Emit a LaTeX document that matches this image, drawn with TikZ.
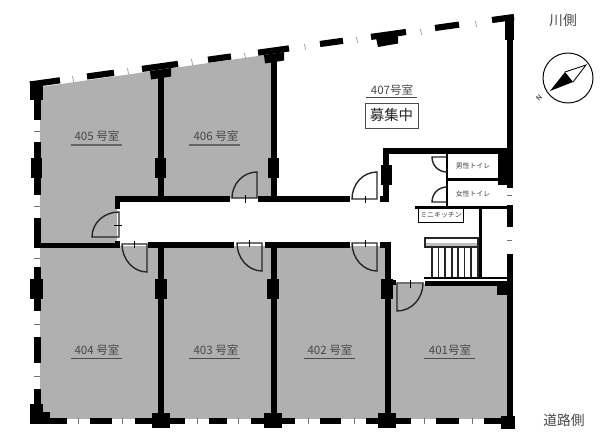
\documentclass[tikz,border=0pt]{standalone}
\usepackage{fontspec}
\setmainfont{Noto Sans CJK JP}
\tikzset{
  wall/.style={fill=black},
  slantwall/.style={draw=black,line width=4.4pt},
  floorgray/.style={fill=black!31},
  tick/.style={draw=black!55,line width=0.4pt},
  door/.style={draw=black!85,line width=1pt},
  doorpin/.style={draw=black,line width=0.4pt},
  roomname/.style={inner sep=0pt,font=\fontsize{8.2pt}{10pt}\selectfont,text=black!72},
  roomrule/.style={draw=black!70,line width=0.4pt},
  smallname/.style={inner sep=0pt,font=\fontsize{4.9pt}{6pt}\selectfont,text=black!75},
  sidename/.style={inner sep=0pt,font=\fontsize{9.8pt}{12pt}\selectfont,text=black!72},
}
\begin{document}
\begin{tikzpicture}[x=0.025cm,y=-0.025cm]
  \useasboundingbox (0,0) rectangle (616,440);
  % gray rooms
  \fill[floorgray] (40,87) -- (272,54) -- (272,198) -- (117,198) -- (117,243) -- (40,243) -- cycle;
  \fill[floorgray] (40,246) rectangle (386,419);
  \fill[floorgray] (389,284) rectangle (508,419);
  % slanted front, river side
  \foreach \xa/\ya/\xb/\yb in {30/84.5/60/80.3, 87/76.5/114/72.8, 142/68.9/178/63.9, 208/59.7/231/56.5,
      258/52.7/289/48.4, 320/44/343/40.8, 371/36.9/406/32, 435/28/459/24.6, 492/20/514/17}
    \draw[slantwall] (\xa,\ya) -- (\xb,\yb);
  \foreach \x/\y in {73/79, 128/71, 192/62, 245/56, 305/47, 357/40, 421/32, 476/24}
    \draw[tick] (\x-0.4,\y-3) -- (\x+0.4,\y+3);
  \fill[wall] (150,71) -- (171,68) -- (171,76.5) -- (151,79.5) -- cycle;
  \fill[wall] (264,55) -- (284,52) -- (284,60.5) -- (265,63.5) -- cycle;
  \fill[wall] (376,38) -- (398,35) -- (398,43.5) -- (378,47) -- cycle;
  % walls and pillars
  \foreach \xa/\ya/\xb/\yb in {
      30/81/43/100, 34/100/40.5/120, 34/142/40.5/195, 31/158/42/178, 34/218/40.5/247.5,
      34/243/120/247.5, 115/241/120/247.5, 115/196/120/209,
      34/267/40.5/311, 30/279/43/299, 34/337/40.5/363, 34/389/40.5/420, 30/404/43/424, 30/412/50/424,
      30/418/67/424, 90/418/112/424, 135/418/185/424, 152/413/170/428, 209/418/227/424,
      251/418/295/424, 264/413/282/428, 320/418/341/424, 366/418/411/424, 378/413/396/428,
      436/418/459/424, 484/418/510/424, 501/416/515/429,
      157.5/70/163.5/198, 155/158/166/178, 157.5/247/163.5/418, 155/279/167/299,
      270.5/60/276.5/198, 268/158/279/178, 270.5/247/276.5/418, 267/279/279/299,
      115/196/230/202, 258/196/350/202, 380/196/388/202, 148/242/234/247.5, 265/242/350/247.5,
      380/242/390.5/247.5, 384.5/242/390.5/418, 381/279/393/299, 393/280/396/285,
      383/148/507/154, 383/148/389/202, 381/165/392/185,
      505/17/514/40, 507/40/512.5/188, 498/148/512.5/185,
      507/205/512.5/227, 507/254/512.5/420, 497/286/507/295, 425/281/507/286}
    \fill[wall] (\xa,\ya) rectangle (\xb,\yb);
  \foreach \x in {78,122,197,238,308,354,424,472}
    \draw[tick] (\x,418) -- (\x,424);
  \foreach \y in {131,206,258,324,376}
    \draw[tick] (34,\y) -- (40,\y);
  \foreach \y in {195,240}
    \draw[tick] (507,\y) -- (512,\y);
  % doors
  \draw[door] (232,198) .. controls (232,184) and (243,172) .. (257,172) -- (257,198) -- cycle;
  \draw[doorpin] (245,195) -- (245,203);
  \draw[door] (92,237) .. controls (92,223) and (104,212) .. (119,212) -- (119,237) -- cycle;
  \draw[doorpin] (114,225) -- (122,225);
  \draw[door] (122,244) .. controls (122,259) and (133,272) .. (147,272) -- (147,244) -- cycle;
  \draw[doorpin] (134,241) -- (134,248);
  \draw[door] (237,243) .. controls (237,258) and (248,271) .. (262,271) -- (262,243) -- cycle;
  \draw[doorpin] (249,240) -- (249,247);
  \draw[door] (352,243) .. controls (352,258) and (363,271) .. (377,271) -- (377,243) -- cycle;
  \draw[doorpin] (365,240) -- (365,247);
  \draw[door] (423,283) .. controls (423,298) and (412,311) .. (397,311) -- (397,283) -- cycle;
  \draw[doorpin] (410,280) -- (410,288);
  \draw[door] (352,199) .. controls (352,184) and (363,172) .. (377,172) -- (377,199) -- cycle;
  \draw[doorpin] (365,196) -- (365,203);
  % toilets
  \fill[wall] (446,154) rectangle (448,206);
  \fill[wall] (447,178) rectangle (498,181);
  \fill[wall] (415,206) rectangle (507,208.5);
  \draw[door] (447,157) -- (432,157) .. controls (432,165) and (438,172) .. (447,172);
  \draw[door] (447,202) -- (432,202) .. controls (432,194) and (438,187) .. (447,187);
  \node[smallname] (mens) at (473,166) {男性トイレ};
  \node[smallname] (womens) at (473,194) {女性トイレ};
  \node[smallname,fill=white,draw=black,line width=0.6pt,minimum width=45.5*0.025cm,minimum height=14*0.025cm,anchor=north] (kitchen) at (441,208) {ミニキッチン};
  % stairs
  \fill[wall] (479,208) rectangle (482,277);
  \fill[black!25] (425,243) rectangle (478,247);
  \draw[door] (425,238) rectangle (478,247);
  \foreach \x in {432,438.5,445,452,458,464.5,471,478}
    \draw[door] (\x,247) -- (\x,277);
  \fill[wall] (424,276.5) rectangle (507,279);
  % room names
  \foreach \nm/\x/\y/\txt in {roomf/97/136/405 号室, rooms/216/136/406 号室, roomd/97/350/404 号室,
      roomc/216/350/403 号室, roomb/330/350/402 号室, rooma/450/350/401号室, roomg/392/90/407号室}
    \node[roomname] (\nm) at (\x,\y) {\txt};
  \draw[draw=black!60,line width=1pt] (71,145) -- (122,145);
  \draw[draw=black!60,line width=1pt] (189,145) -- (240,145);
  \foreach \xa/\xb/\y in {71/122/358, 189/240/358, 304/355/358, 424/475/358, 366/417/97}
    \draw[roomrule] (\xa,\y) -- (\xb,\y);
  \node[draw=black!70,line width=0.7pt,inner sep=0pt,minimum width=53*0.025cm,minimum height=25*0.025cm,text=black!85,font=\fontsize{10.3pt}{12pt}\selectfont] (vacant) at (391.5,115.5) {募集中};
  % sides and compass
  \node[sidename] (riverside) at (563,20) {川側};
  \node[sidename] (roadside) at (564,420) {道路側};
  \draw[black,line width=0.7pt] (568,78) circle [radius=25];
  \draw[black,line width=0.6pt] (565,72) -- (586,65) -- (573,82);
  \fill[black] (550,91) -- (565,72) -- (573,82) -- cycle;
  \node[inner sep=0pt,font=\fontsize{5pt}{6pt}\selectfont,rotate=45] (north) at (539,98) {N};
\end{tikzpicture}
\end{document}
